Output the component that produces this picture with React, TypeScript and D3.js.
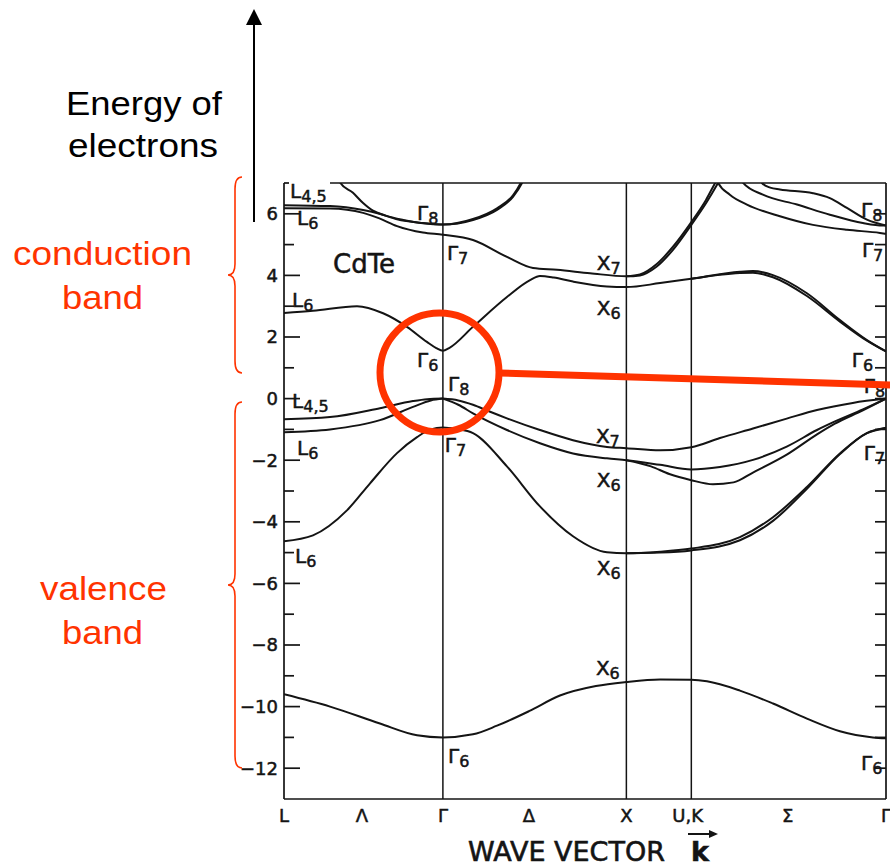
import React from 'react';
import * as d3 from 'd3';

type Pt = [number, number];

// Path through the Brillouin zone, k in units of 2π/a
const kPointPos = [0, 0.866, 1.866, 2.22, 3.281];
const kAxisLabels = ['L', 'Λ', 'Γ', 'Δ', 'X', 'U,K', 'Σ', 'Γ'];
const kAxisLabelPos = [0, 0.425, 0.866, 1.335, 1.866, 2.2, 2.745, 3.281];

const energyMajor = [-12, -10, -8, -6, -4, -2, 0, 2, 4, 6];
const energyMinor = [-13, -11, -9, -7, -5, -3, -1, 1, 3, 5];
const energyAll = [-12, -11, -10, -9, -8, -7, -6, -5, -4, -3, -2, -1, 0, 1, 2, 3, 4, 5, 6];

// ---- valence bands (eV) ----
const sBand: Pt[] = [
  [0, -9.6], [0.251, -10.0], [0.523, -10.55], [0.725, -10.93], [0.866, -11.0],
  [1.03, -10.9], [1.161, -10.62], [1.335, -10.15], [1.504, -9.64], [1.7, -9.33],
  [1.866, -9.2], [2.05, -9.12], [2.22, -9.13], [2.305, -9.18], [2.485, -9.48],
  [2.665, -9.9], [2.85, -10.39], [3.03, -10.8], [3.21, -11.0], [3.281, -11.03],
];
const valenceLow: Pt[] = [
  [0, -4.63], [0.158, -4.44], [0.343, -3.63], [0.469, -2.75], [0.616, -1.77],
  [0.725, -1.25], [0.8, -1.0], [0.866, -0.94], [0.94, -0.99], [1.03, -1.12],
  [1.215, -2.2], [1.395, -3.5], [1.575, -4.47], [1.76, -4.99], [1.866, -5.02],
  [2.05, -4.97], [2.22, -4.87], [2.485, -4.5], [2.665, -3.85], [2.85, -2.87],
  [3.03, -1.78], [3.177, -1.12], [3.281, -0.95],
];
const valenceLowSplit: Pt[] = [
  [1.866, -5.02], [2.05, -5.0], [2.22, -4.93], [2.485, -4.6], [2.665, -3.97],
  [2.85, -2.93], [3.03, -1.8], [3.177, -1.12], [3.281, -0.95],
];
const valenceL45: Pt[] = [
  [0, -0.67], [0.251, -0.6], [0.523, -0.31], [0.703, -0.08], [0.78, -0.02], [0.866, 0],
];
const valenceL6: Pt[] = [
  [0, -1.09], [0.251, -1.0], [0.523, -0.7], [0.703, -0.27], [0.8, -0.06], [0.866, 0],
];
const valenceX7: Pt[] = [
  [0.866, 0], [0.95, -0.06], [1.03, -0.2], [1.12, -0.42], [1.215, -0.64],
  [1.395, -1.02], [1.575, -1.35], [1.76, -1.57], [1.866, -1.61], [2.05, -1.68],
  [2.22, -1.58], [2.376, -1.28], [2.556, -0.97], [2.74, -0.65], [2.905, -0.37],
  [3.1, -0.14], [3.281, 0],
];
const valenceX6: Pt[] = [
  [0.866, 0], [0.95, -0.2], [1.03, -0.48], [1.215, -1.02], [1.395, -1.45],
  [1.575, -1.78], [1.76, -1.94], [1.866, -2.0], [2.05, -2.15], [2.22, -2.3],
  [2.376, -2.22], [2.556, -1.99], [2.74, -1.56], [2.905, -1.02], [3.0, -0.75],
  [3.155, -0.35], [3.281, 0],
];
const valenceX6Split: Pt[] = [
  [1.866, -2.0], [2.0, -2.2], [2.1, -2.45], [2.22, -2.65], [2.338, -2.78],
  [2.45, -2.72], [2.556, -2.4], [2.74, -1.82], [2.905, -1.16], [3.0, -0.82],
  [3.155, -0.38], [3.281, 0],
];

// ---- conduction bands (eV) ----
const condLowest: Pt[] = [
  [0, 2.78], [0.158, 2.85], [0.398, 3.0], [0.54, 2.77], [0.67, 2.33],
  [0.779, 1.84], [0.83, 1.64], [0.866, 1.55], [0.9, 1.64], [1.03, 2.33],
  [1.215, 3.3], [1.341, 3.85], [1.395, 3.98], [1.47, 3.93], [1.575, 3.8],
  [1.76, 3.64], [1.866, 3.62], [2.05, 3.75], [2.22, 3.89], [2.485, 4.12],
  [2.556, 4.14], [2.665, 4.01], [2.85, 3.42], [3.03, 2.55], [3.177, 1.9],
  [3.281, 1.53],
];
const condLowestSplit: Pt[] = [
  [2.22, 3.89], [2.485, 4.08], [2.556, 4.09], [2.665, 3.94], [2.85, 3.33],
  [3.03, 2.5], [3.177, 1.88], [3.281, 1.53],
];
const condGamma7: Pt[] = [
  [0, 6.18], [0.251, 6.17], [0.431, 6.03], [0.52, 5.85], [0.616, 5.6],
  [0.757, 5.39], [0.866, 5.32], [1.03, 5.15], [1.215, 4.6], [1.357, 4.24],
  [1.488, 4.18], [1.668, 4.07], [1.866, 3.97], [1.94, 4.0], [2.03, 4.28],
  [2.12, 4.83], [2.22, 5.64], [2.305, 6.39], [2.36, 6.94], [2.375, 7.1],
];
const condX7Split: Pt[] = [
  [1.866, 3.97], [1.94, 4.03], [2.03, 4.36], [2.12, 4.93], [2.22, 5.73],
  [2.3, 6.45], [2.35, 7.0], [2.36, 7.1],
];
const condGamma8: Pt[] = [
  [0, 6.28], [0.251, 6.25], [0.431, 6.12], [0.52, 6.0], [0.616, 5.82],
  [0.757, 5.7], [0.866, 5.65], [1.03, 5.8], [1.161, 6.13], [1.248, 6.55],
  [1.297, 7.0], [1.305, 7.1],
];
const condGamma8Steep: Pt[] = [
  [0.3, 7.1], [0.305, 7.02], [0.376, 6.68], [0.431, 6.35], [0.485, 6.1],
  [0.55, 5.95], [0.65, 5.8], [0.757, 5.69], [0.866, 5.65], [1.03, 5.83],
  [1.161, 6.18], [1.248, 6.6], [1.29, 7.0], [1.298, 7.1],
];
const condSigmaA: Pt[] = [
  [2.36, 7.1], [2.365, 7.02], [2.43, 6.62], [2.523, 6.3], [2.703, 5.92],
  [2.883, 5.64], [3.068, 5.48], [3.248, 5.38], [3.281, 5.35],
];
const condSigmaB: Pt[] = [
  [2.495, 7.1], [2.5, 7.02], [2.61, 6.62], [2.796, 6.3], [2.975, 5.97],
  [3.155, 5.7], [3.264, 5.62], [3.281, 5.62],
];
const condSigmaC: Pt[] = [
  [2.6, 7.1], [2.605, 7.0], [2.65, 6.85], [2.703, 6.79], [2.883, 6.67],
  [2.975, 6.51], [3.068, 6.19], [3.177, 5.81], [3.281, 5.62],
];

const bands: Pt[][] = [
  sBand, valenceLow, valenceLowSplit, valenceL45, valenceL6, valenceX7, valenceX6,
  valenceX6Split, condLowest, condLowestSplit, condGamma7, condX7Split, condGamma8,
  condGamma8Steep, condSigmaA, condSigmaB, condSigmaC,
];

// Symmetry labels: letter, subscript, anchor (k, E) at baseline-left
const stateNames = ['L', 'L', 'Γ', 'Γ', 'L', 'Γ', 'Γ', 'L', 'L', 'Γ', 'L', 'X', 'X', 'Γ', 'Γ', 'Γ', 'Γ', 'X', 'X', 'X', 'Γ', 'X', 'Γ', 'Γ'];
const stateSubs = ['4,5', '6', '8', '7', '6', '6', '8', '4,5', '6', '7', '6', '7', '6', '8', '7', '6', '8', '7', '6', '6', '7', '6', '6', '6'];
const stateK = [0.033, 0.071, 0.725, 0.888, 0.044, 0.725, 0.894, 0.044, 0.071, 0.876, 0.06, 1.705, 1.705, 3.145, 3.15, 3.095, 3.16, 1.7, 1.705, 1.705, 3.16, 1.7, 0.894, 3.145];
const stateE = [6.51, 5.64, 5.8, 4.5, 2.97, 1.02, 0.25, -0.31, -1.83, -1.74, -5.35, 4.17, 2.71, 5.89, 4.6, 1.02, 0.18, -1.44, -2.87, -5.73, -2.0, -8.98, -11.84, -12.06];

const W = 890;
const H = 866;
const RED = '#ff3300';
const INK = '#141414';
const SANS = "'DejaVu Sans', sans-serif";
const ARIAL = "'Liberation Sans', Arial, sans-serif";

export default function App() {
  const x = d3.scaleLinear().domain([0, 3.281]).range([284, 886]);
  const y = d3.scaleLinear().domain([-13, 7]).range([799, 183]);
  const line = d3.line<Pt>().x(d => x(d[0])).y(d => y(d[1])).curve(d3.curveMonotoneX);

  const [x0, x1] = x.range();
  const [yb, yt] = y.range();

  const brace = (y0: number, y1: number) => {
    const ym = (y0 + y1) / 2;
    return `M242,${y0} Q235,${y0} 235,${y0 + 12} L235,${ym - 11} Q235,${ym} 228,${ym} Q235,${ym} 235,${ym + 11} L235,${y1 - 12} Q235,${y1} 242,${y1}`;
  };

  return (
    <svg width={W} height={H} style={{ position: 'absolute', left: 0, top: 0, background: '#fff' }}>
      <defs>
        <clipPath id="plot-area">
          <rect x={x0} y={yt} width={x1 - x0} height={yb - yt} />
        </clipPath>
      </defs>

      {/* frame */}
      <g stroke={INK} strokeWidth={1.7} fill="none">
        <line x1={x0} y1={yt} x2={x0} y2={yb} />
        <line x1={x0} y1={yb} x2={x1} y2={yb} />
        <line x1={x1} y1={yt} x2={x1} y2={yb} />
        <line x1={x0} y1={yt} x2={x0 + 5} y2={yt} />
        <line x1={x0 + 46} y1={yt} x2={x1} y2={yt} />
        {kPointPos.slice(1, 4).map((k, i) => (
          <line key={i} x1={x(k)} y1={yt} x2={x(k)} y2={yb} strokeWidth={1.5} />
        ))}
      </g>

      {/* energy ticks, left and right */}
      <g stroke={INK} strokeWidth={1.7}>
        {energyMajor.map(e => (
          <line key={'L' + e} x1={x0} y1={y(e)} x2={x0 + 16} y2={y(e)} />
        ))}
        {energyMinor.filter(e => e > -13).map(e => (
          <line key={'l' + e} x1={x0} y1={y(e)} x2={x0 + 10} y2={y(e)} />
        ))}
        {energyAll.map(e => (
          <line key={'r' + e} x1={x1} y1={y(e)} x2={x1 - 11} y2={y(e)} />
        ))}
      </g>
      <g fontFamily={SANS} fontSize={18} fill={INK} stroke={INK} strokeWidth={0.5} textAnchor="end">
        {energyMajor.map(e => (
          <text key={e} x={x0 - 6} y={y(e)} dy="0.36em">
            {e < 0 ? '\u2212' + Math.abs(e) : String(e)}
          </text>
        ))}
      </g>

      {/* k-axis labels */}
      <g fontFamily={SANS} fontSize={18} fill={INK} stroke={INK} strokeWidth={0.5} textAnchor="middle">
        {kAxisLabels.map((t, i) => (
          <text key={i} x={x(kAxisLabelPos[i])} y={822}>{t}</text>
        ))}
      </g>
      <g fontFamily={SANS} fontSize={27} fill={INK} stroke={INK} strokeWidth={0.6}>
        <text x={468} y={861}>WAVE VECTOR</text>
        <text x={691} y={861} fontWeight="bold">k</text>
      </g>
      <g stroke={INK} strokeWidth={2} fill={INK}>
        <line x1={688} y1={834} x2={712} y2={834} />
        <path d="M718,834 L709,830 L709,838 Z" stroke="none" />
      </g>

      {/* bands */}
      <g clipPath="url(#plot-area)" fill="none" stroke={INK} strokeWidth={2} strokeLinejoin="round">
        {bands.map((b, i) => (
          <path key={i} d={line(b) || ''} />
        ))}
      </g>

      {/* state labels */}
      <g fontFamily={SANS} fill={INK} stroke={INK} strokeWidth={0.5}>
        {stateNames.map((t, i) => (
          <text key={i} x={x(stateK[i])} y={y(stateE[i])} fontSize={20}>
            {t}
            <tspan fontSize={16} dy={4}>{stateSubs[i]}</tspan>
          </text>
        ))}
        <text x={x(0.267)} y={y(4.08)} fontSize={26}>CdTe</text>
      </g>

      {/* energy arrow */}
      <g stroke="#000" fill="#000">
        <line x1={254} y1={222} x2={254} y2={22} strokeWidth={2} />
        <path d="M254,9 L246,25 L262,25 Z" stroke="none" />
      </g>
      <g fontFamily={ARIAL} fontSize={33} fill="#000">
        <text x={66} y={115} textLength={156} lengthAdjust="spacingAndGlyphs">Energy of</text>
        <text x={68} y={157} textLength={150} lengthAdjust="spacingAndGlyphs">electrons</text>
      </g>

      {/* band annotations */}
      <g fill="none" stroke={RED} strokeWidth={1.6}>
        <path d={brace(177, 373)} />
        <path d={brace(402, 768)} />
      </g>
      <g fontFamily={ARIAL} fontSize={33} fill={RED}>
        <text x={13} y={265} textLength={179} lengthAdjust="spacingAndGlyphs">conduction</text>
        <text x={62} y={309} textLength={81} lengthAdjust="spacingAndGlyphs">band</text>
        <text x={40} y={600} textLength={127} lengthAdjust="spacingAndGlyphs">valence</text>
        <text x={62} y={644} textLength={81} lengthAdjust="spacingAndGlyphs">band</text>
      </g>

      {/* band-gap highlight */}
      <g fill="none" stroke={RED} strokeWidth={7}>
        <circle cx={439.5} cy={372.5} r={59.5} />
        <line x1={499} y1={373} x2={892} y2={385} />
      </g>
    </svg>
  );
}
